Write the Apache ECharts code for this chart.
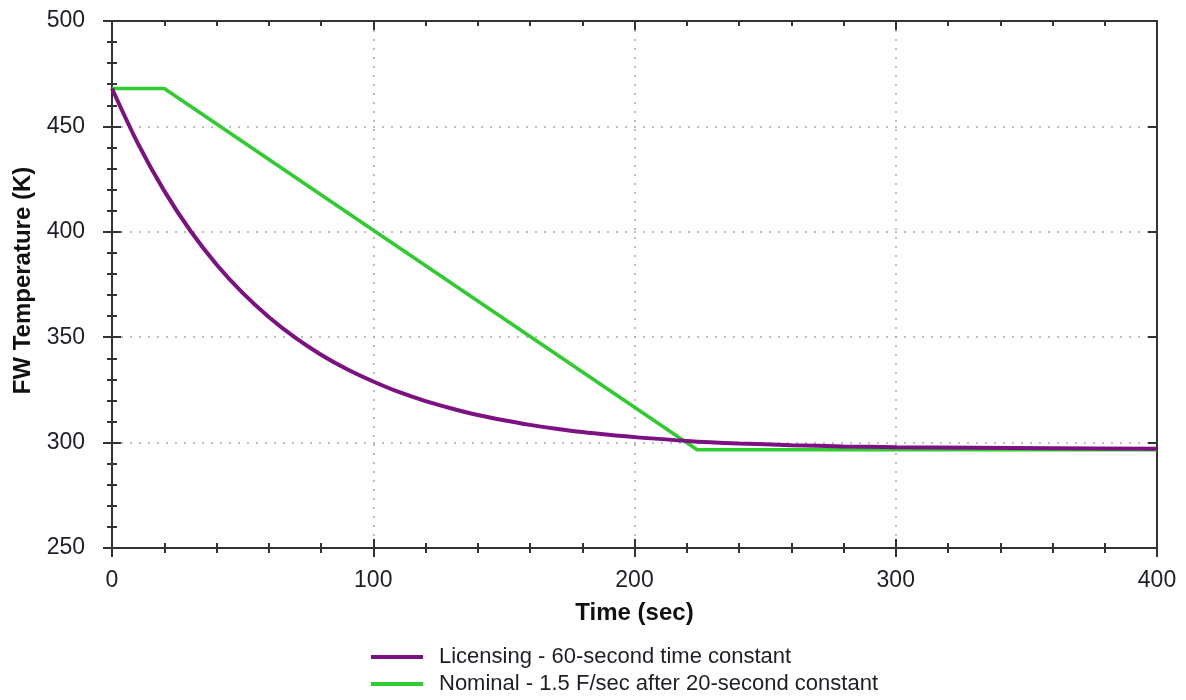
<!DOCTYPE html>
<html>
<head>
<meta charset="utf-8">
<script src="https://cdn.jsdelivr.net/npm/echarts@6/dist/echarts.min.js"></script>
<style>
  html, body { margin: 0; padding: 0; background: #fff; }
  #chart { width: 1186px; height: 700px; }
</style>
</head>
<body>
<div id="chart"></div>
<script>
// Licensing - 60 s time constant
var timeLic = [0, 10, 20, 30, 40, 50, 60, 70, 80, 90, 100, 110, 120, 130, 140, 150, 160, 170, 180, 190, 200, 220, 240, 260, 280, 300, 330, 360, 400];
var tempLic = [468, 441.7, 419.4, 400.5, 384.5, 371.0, 359.6, 349.9, 341.7, 334.8, 329.0, 323.9, 319.7, 316.2, 313.1, 310.6, 308.4, 306.6, 305.0, 303.7, 302.6, 300.8, 299.6, 298.8, 298.2, 297.8, 297.5, 297.3, 297.1];

// Nominal - 1.5 F/sec after 20 s constant
var timeNom = [0, 20, 224, 400];
var tempNom = [468, 468, 296.6, 296.6];

var xTicks = [0, 100, 200, 300, 400];
var yTicks = [250, 300, 350, 400, 450, 500];

var seriesNames = ['Licensing - 60-second time constant', 'Nominal - 1.5 F/sec after 20-second constant'];

function pairs(xs, ys) {
  var out = [];
  for (var i = 0; i < xs.length; i++) out.push([xs[i], ys[i]]);
  return out;
}

var axisColor = '#333';
var fontFam = 'Liberation Sans, Arial, sans-serif';
var labelStyle = { color: '#1e1e28', fontSize: 23, fontFamily: fontFam };
var titleStyle = { color: '#111', fontSize: 24, fontWeight: 'bold', fontFamily: fontFam };

function xAxisDef(pos, inside, labels) {
  return {
    type: 'value', position: pos,
    min: xTicks[0], max: xTicks[xTicks.length - 1], interval: 100,
    axisLine: { show: true, onZero: false, lineStyle: { color: axisColor, width: 2 } },
    axisTick: { show: true, inside: inside, length: 9, lineStyle: { color: axisColor, width: 2 } },
    minorTick: { show: true, splitNumber: 5, length: 5, lineStyle: { color: axisColor, width: 2 } },
    axisLabel: Object.assign({ show: labels, margin: 21 }, labelStyle),
    splitLine: { show: labels, lineStyle: { color: '#aaa', type: [2, 7], width: 1.5 } },
    name: labels ? 'Time (sec)' : '',
    nameLocation: 'middle', nameGap: 53,
    nameTextStyle: titleStyle
  };
}

function yAxisDef(pos, inside, labels, minor) {
  return {
    type: 'value', position: pos,
    min: yTicks[0], max: yTicks[yTicks.length - 1], interval: 50,
    axisLine: { show: true, onZero: false, lineStyle: { color: axisColor, width: 2 } },
    axisTick: { show: true, inside: inside, length: 9, lineStyle: { color: axisColor, width: 2 } },
    minorTick: { show: minor, splitNumber: 5, length: 5, lineStyle: { color: axisColor, width: 2 } },
    axisLabel: Object.assign({ show: labels, margin: 27 }, labelStyle),
    splitLine: { show: labels, lineStyle: { color: '#aaa', type: [2, 7], width: 1.5 } },
    name: labels ? 'FW Temperature (K)' : '',
    nameLocation: 'middle', nameGap: 74,
    nameTextStyle: Object.assign({ padding: [0, 0, 0, 8] }, titleStyle)
  };
}

var chart = echarts.init(document.getElementById('chart'));
chart.setOption({
  backgroundColor: '#fff',
  animation: false,
  grid: { left: 112, right: 29, top: 21, bottom: 152 },
  legend: {
    orient: 'vertical', left: 366, top: 641, height: 58,
    itemWidth: 52, itemHeight: 4, itemGap: 5,
    icon: 'rect',
    textStyle: { color: '#1e1e28', fontSize: 22, lineHeight: 22, fontFamily: fontFam, padding: [0, 0, 0, 11] },
    data: seriesNames
  },
  xAxis: [
    xAxisDef('bottom', false, true),
    xAxisDef('bottom', true, false),
    xAxisDef('top', true, false)
  ],
  yAxis: [
    yAxisDef('left', false, true, true),
    yAxisDef('left', true, false, true),
    yAxisDef('right', true, false, false)
  ],
  series: [
    {
      name: seriesNames[0], type: 'line', xAxisIndex: 0, yAxisIndex: 0, z: 3,
      showSymbol: false, smooth: 0.3, color: '#7d1083',
      lineStyle: { width: 4, color: '#7d1083' },
      data: pairs(timeLic, tempLic)
    },
    {
      name: seriesNames[1], type: 'line', xAxisIndex: 0, yAxisIndex: 0, z: 2,
      showSymbol: false, color: '#2fcc2f',
      lineStyle: { width: 3.5, color: '#2fcc2f' },
      data: pairs(timeNom, tempNom)
    }
  ]
});
</script>
</body>
</html>
